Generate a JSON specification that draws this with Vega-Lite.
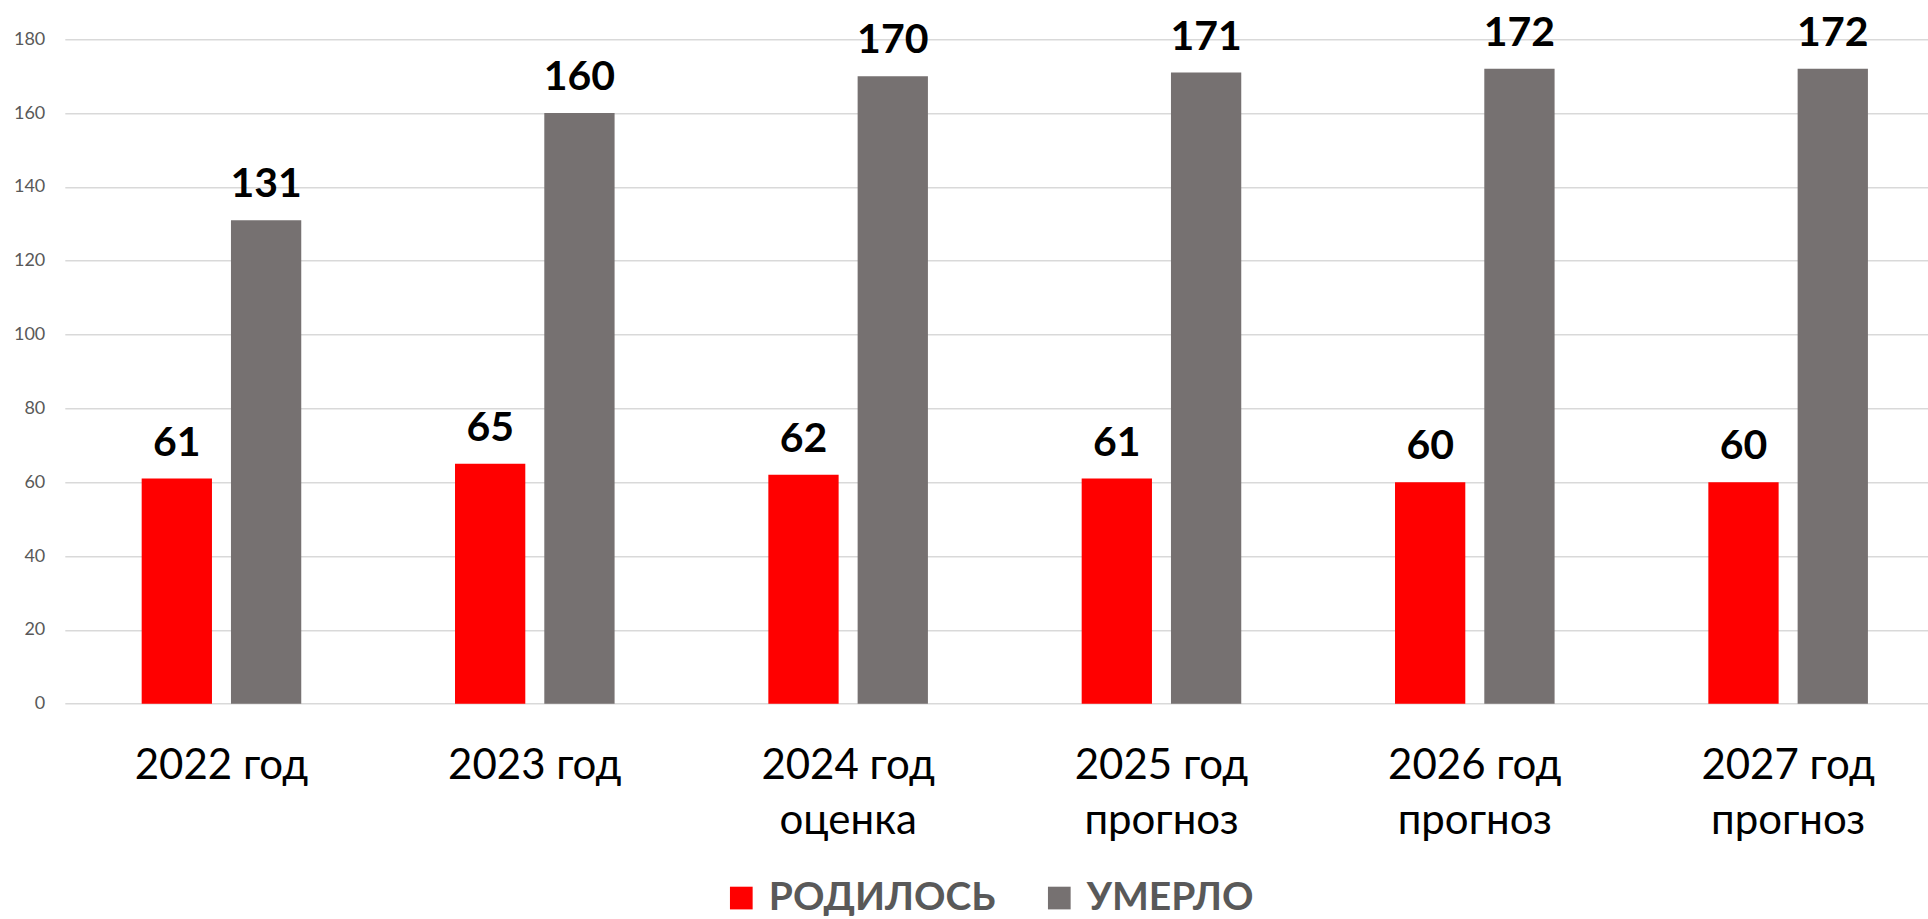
{
  "$schema": "https://vega.github.io/schema/vega-lite/v6.json",
  "width": 1880,
  "height": 664.4,
  "autosize": {"type": "none"},
  "padding": {"left": 64.8, "top": 39.3, "right": 0, "bottom": 215.3},
  "background": "white",
  "data": {
    "values": [
      {"year": "2022 год", "series": "РОДИЛОСЬ", "value": 61},
      {"year": "2022 год", "series": "УМЕРЛО", "value": 131},
      {"year": "2023 год", "series": "РОДИЛОСЬ", "value": 65},
      {"year": "2023 год", "series": "УМЕРЛО", "value": 160},
      {"year": "2024 год|оценка", "series": "РОДИЛОСЬ", "value": 62},
      {"year": "2024 год|оценка", "series": "УМЕРЛО", "value": 170},
      {"year": "2025 год|прогноз", "series": "РОДИЛОСЬ", "value": 61},
      {"year": "2025 год|прогноз", "series": "УМЕРЛО", "value": 171},
      {"year": "2026 год|прогноз", "series": "РОДИЛОСЬ", "value": 60},
      {"year": "2026 год|прогноз", "series": "УМЕРЛО", "value": 172},
      {"year": "2027 год|прогноз", "series": "РОДИЛОСЬ", "value": 60},
      {"year": "2027 год|прогноз", "series": "УМЕРЛО", "value": 172}
    ]
  },
  "encoding": {
    "x": {
      "field": "year",
      "type": "nominal",
      "sort": null,
      "scale": {"paddingInner": 0, "paddingOuter": 0},
      "axis": {
        "title": null,
        "domain": false,
        "ticks": false,
        "tickSize": 0,
        "labelAngle": 0,
        "labelExpr": "split(datum.label, '|')",
        "labelFont": "Lato",
        "labelFontSize": 42,
        "labelColor": "#000000",
        "labelBaseline": "alphabetic",
        "labelPadding": 74.6,
        "labelLineHeight": 55,
        "grid": false
      }
    },
    "xOffset": {
      "field": "series",
      "type": "nominal",
      "sort": ["РОДИЛОСЬ", "УМЕРЛО"],
      "scale": {"paddingInner": 0.2128, "paddingOuter": 0.861}
    },
    "y": {
      "field": "value",
      "type": "quantitative",
      "scale": {"domain": [0, 180], "nice": false, "zero": true},
      "axis": {
        "title": null,
        "values": [0, 20, 40, 60, 80, 100, 120, 140, 160, 180],
        "domain": false,
        "ticks": false,
        "tickSize": 0,
        "labelFont": "Lato",
        "labelFontSize": 18,
        "labelColor": "#595959",
        "labelPadding": 20,
        "grid": true,
        "gridColor": "#d9d9d9",
        "gridWidth": 1.5
      }
    }
  },
  "layer": [
    {
      "mark": {"type": "bar"},
      "encoding": {
        "color": {
          "field": "series",
          "type": "nominal",
          "scale": {"domain": ["РОДИЛОСЬ", "УМЕРЛО"], "range": ["#FF0000", "#767171"]},
          "legend": {
            "title": null,
            "orient": "none",
            "direction": "horizontal",
            "legendX": 657,
            "legendY": 839,
            "padding": 0,
            "symbolType": "square",
            "symbolSize": 515,
            "symbolStrokeWidth": 0,
            "labelFont": "Lato",
            "labelFontSize": 39,
            "labelFontWeight": "bold",
            "labelColor": "#595959",
            "labelOffset": 8,
            "columnPadding": 44,
            "labelLimit": 400
          }
        }
      }
    },
    {
      "mark": {
        "type": "text",
        "font": "Lato",
        "fontSize": 41,
        "fontWeight": "bold",
        "color": "#000000",
        "baseline": "alphabetic",
        "dy": -23
      },
      "encoding": {
        "text": {"field": "value", "type": "quantitative"}
      }
    }
  ],
  "config": {
    "view": {"stroke": null}
  }
}
